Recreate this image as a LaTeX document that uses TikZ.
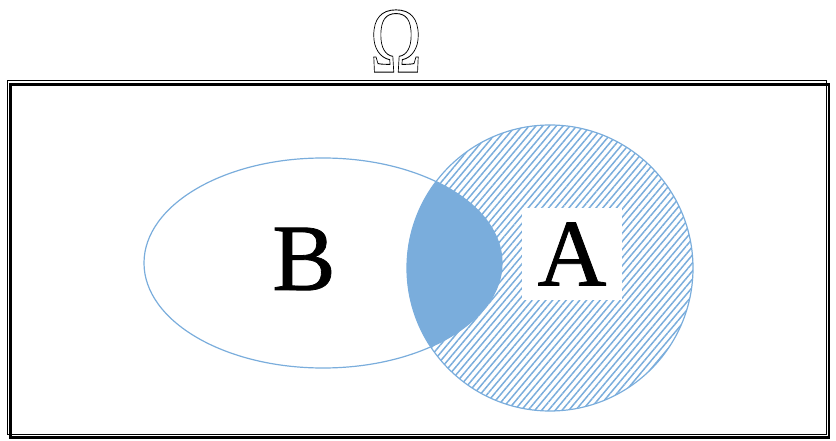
\documentclass[tikz,border=0pt]{standalone}
\usepackage{fontspec}
\setmainfont{Liberation Serif}
\usetikzlibrary{patterns.meta}
\definecolor{vblue}{HTML}{7AADDC}
\tikzset{
  setline/.style={draw=vblue, line width=1.2pt},
  biglabel/.style={font=\fontsize{95}{95}\selectfont, inner sep=0pt},
}
\begin{document}
\begin{tikzpicture}[x=1pt,y=-1pt]
\useasboundingbox (0,0) rectangle (836,441);
% frame
\draw[line width=1pt] (7.5,81) rectangle (826.5,434.5);
\draw[line width=2.2pt] (10.5,84.5) rectangle (829,437.5);
% Omega title (outlined)
\node[inner sep=0pt, font=\fontsize{94}{94}\selectfont, xscale=0.74] (omega) at (396,41)
  {\special{pdf:literal direct 1 Tr 0.9 w}Ω\special{pdf:literal direct 0 Tr}};
% hatched circle A
\path[pattern={Lines[angle=50,distance=5.2pt,line width=1.5pt]}, pattern color=vblue]
  (550,268) circle [radius=143];
% intersection
\begin{scope}
  \clip (550,268) circle [radius=143];
  \fill[vblue] (323,263) ellipse [x radius=179, y radius=105];
\end{scope}
% outlines
\draw[setline] (323,263) ellipse [x radius=179, y radius=105];
\draw[setline] (550,268) circle [radius=143];
% labels
\node[fill=white, minimum width=100pt, minimum height=92pt, inner sep=0pt] (abox) at (572,254) {};
\node[biglabel] (A) at (abox) {\special{pdf:literal direct 2 Tr 0.8 w}A\special{pdf:literal direct 0 Tr}};
\node[biglabel] (B) at (304,259) {\special{pdf:literal direct 2 Tr 0.8 w}B\special{pdf:literal direct 0 Tr}};
\end{tikzpicture}
\end{document}
